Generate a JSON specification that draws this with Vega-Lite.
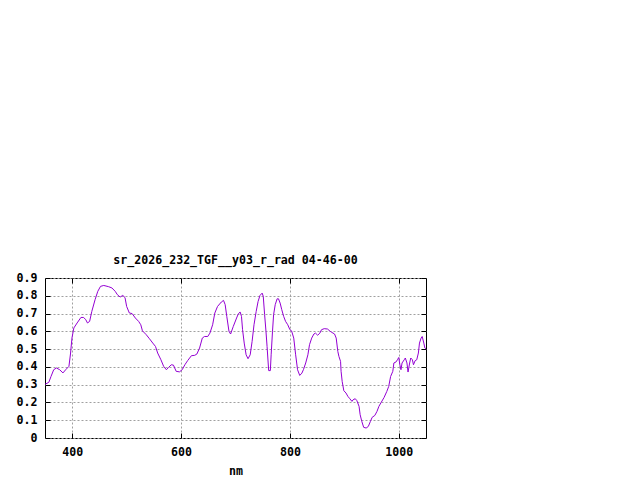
{
  "$schema": "https://vega.github.io/schema/vega-lite/v6.json",
  "width": 381,
  "height": 160,
  "autosize": {"type": "none"},
  "padding": {"left": 45, "top": 278, "right": 214, "bottom": 42},
  "background": "white",
  "title": {
    "text": "sr_2026_232_TGF__y03_r_rad 04-46-00",
    "font": "DejaVu Sans Mono",
    "fontSize": 11.6,
    "fontWeight": "bold",
    "color": "black",
    "offset": 5
  },
  "config": {
    "view": {"stroke": "black", "strokeWidth": 1},
    "axis": {
      "domain": false,
      "tickColor": "black",
      "tickSize": -5,
      "tickWidth": 1,
      "labelFont": "DejaVu Sans Mono",
      "labelFontSize": 11.6,
      "labelFontWeight": "bold",
      "labelColor": "black",
      "titleFont": "DejaVu Sans Mono",
      "titleFontSize": 11.6,
      "titleFontWeight": "bold",
      "titleColor": "black",
      "gridColor": "#a0a0a0",
      "gridDash": [2, 2],
      "gridWidth": 1,
      "gridOpacity": 1
    }
  },
  "data": {
    "values": [
      {"nm": 350, "rad": 0.302}, {"nm": 357, "rad": 0.313}, {"nm": 361, "rad": 0.346},
      {"nm": 366, "rad": 0.384}, {"nm": 371, "rad": 0.394}, {"nm": 377, "rad": 0.384},
      {"nm": 383, "rad": 0.366}, {"nm": 388, "rad": 0.384}, {"nm": 394, "rad": 0.403},
      {"nm": 397, "rad": 0.478}, {"nm": 399.5, "rad": 0.562}, {"nm": 403, "rad": 0.619},
      {"nm": 409, "rad": 0.647}, {"nm": 416, "rad": 0.678}, {"nm": 421, "rad": 0.678},
      {"nm": 425, "rad": 0.665}, {"nm": 428, "rad": 0.647}, {"nm": 432, "rad": 0.656},
      {"nm": 436, "rad": 0.712}, {"nm": 442, "rad": 0.778}, {"nm": 447, "rad": 0.825},
      {"nm": 452, "rad": 0.853}, {"nm": 458, "rad": 0.858}, {"nm": 467, "rad": 0.851},
      {"nm": 473, "rad": 0.844}, {"nm": 479, "rad": 0.825}, {"nm": 483, "rad": 0.806},
      {"nm": 488, "rad": 0.793}, {"nm": 493, "rad": 0.802}, {"nm": 497, "rad": 0.79},
      {"nm": 500, "rad": 0.74}, {"nm": 505, "rad": 0.703}, {"nm": 510, "rad": 0.7},
      {"nm": 516, "rad": 0.675}, {"nm": 522, "rad": 0.656}, {"nm": 526, "rad": 0.637},
      {"nm": 529, "rad": 0.603}, {"nm": 536, "rad": 0.581}, {"nm": 542, "rad": 0.558},
      {"nm": 548, "rad": 0.534}, {"nm": 553, "rad": 0.515}, {"nm": 557, "rad": 0.478},
      {"nm": 563, "rad": 0.44}, {"nm": 568, "rad": 0.403}, {"nm": 573, "rad": 0.384},
      {"nm": 577, "rad": 0.397}, {"nm": 582, "rad": 0.412}, {"nm": 586, "rad": 0.41},
      {"nm": 591, "rad": 0.375}, {"nm": 597, "rad": 0.372}, {"nm": 602, "rad": 0.384},
      {"nm": 607, "rad": 0.412}, {"nm": 612, "rad": 0.435}, {"nm": 619, "rad": 0.463},
      {"nm": 625, "rad": 0.465}, {"nm": 629, "rad": 0.472}, {"nm": 634, "rad": 0.506},
      {"nm": 639, "rad": 0.562}, {"nm": 643, "rad": 0.571}, {"nm": 649, "rad": 0.571},
      {"nm": 653, "rad": 0.59}, {"nm": 658, "rad": 0.637}, {"nm": 662, "rad": 0.703},
      {"nm": 667, "rad": 0.74}, {"nm": 674, "rad": 0.765}, {"nm": 678, "rad": 0.774},
      {"nm": 681, "rad": 0.75}, {"nm": 684, "rad": 0.684}, {"nm": 688, "rad": 0.6},
      {"nm": 691, "rad": 0.585}, {"nm": 696, "rad": 0.628}, {"nm": 702, "rad": 0.675},
      {"nm": 705, "rad": 0.697}, {"nm": 708.5, "rad": 0.709}, {"nm": 711, "rad": 0.684},
      {"nm": 713, "rad": 0.609}, {"nm": 716, "rad": 0.534}, {"nm": 719.5, "rad": 0.468},
      {"nm": 723, "rad": 0.446}, {"nm": 727, "rad": 0.468}, {"nm": 730.5, "rad": 0.543},
      {"nm": 734, "rad": 0.637}, {"nm": 738, "rad": 0.712}, {"nm": 741.5, "rad": 0.768},
      {"nm": 745, "rad": 0.802}, {"nm": 749, "rad": 0.815}, {"nm": 751, "rad": 0.797},
      {"nm": 753.5, "rad": 0.694}, {"nm": 756, "rad": 0.6}, {"nm": 758, "rad": 0.515},
      {"nm": 760, "rad": 0.422}, {"nm": 761, "rad": 0.379}, {"nm": 764, "rad": 0.379},
      {"nm": 765.5, "rad": 0.468}, {"nm": 768, "rad": 0.6}, {"nm": 770, "rad": 0.694},
      {"nm": 773, "rad": 0.75}, {"nm": 776.5, "rad": 0.783}, {"nm": 779, "rad": 0.783},
      {"nm": 782, "rad": 0.759}, {"nm": 785, "rad": 0.722}, {"nm": 788.5, "rad": 0.684},
      {"nm": 792, "rad": 0.656}, {"nm": 796, "rad": 0.637}, {"nm": 800, "rad": 0.609},
      {"nm": 803, "rad": 0.603}, {"nm": 807, "rad": 0.562}, {"nm": 810.5, "rad": 0.468},
      {"nm": 814, "rad": 0.384}, {"nm": 818, "rad": 0.352}, {"nm": 822, "rad": 0.365},
      {"nm": 825, "rad": 0.386}, {"nm": 829, "rad": 0.422}, {"nm": 833, "rad": 0.468},
      {"nm": 836, "rad": 0.525}, {"nm": 840, "rad": 0.562}, {"nm": 844, "rad": 0.585},
      {"nm": 847, "rad": 0.59}, {"nm": 851, "rad": 0.578}, {"nm": 855, "rad": 0.59},
      {"nm": 858, "rad": 0.609}, {"nm": 863, "rad": 0.615}, {"nm": 869, "rad": 0.613},
      {"nm": 874, "rad": 0.6}, {"nm": 877, "rad": 0.594}, {"nm": 882, "rad": 0.585},
      {"nm": 885, "rad": 0.562}, {"nm": 888, "rad": 0.487}, {"nm": 890, "rad": 0.459},
      {"nm": 893, "rad": 0.431}, {"nm": 894, "rad": 0.375}, {"nm": 896, "rad": 0.318},
      {"nm": 899, "rad": 0.266}, {"nm": 903, "rad": 0.253}, {"nm": 906.5, "rad": 0.234},
      {"nm": 910, "rad": 0.221}, {"nm": 914, "rad": 0.206}, {"nm": 916, "rad": 0.215},
      {"nm": 920, "rad": 0.221}, {"nm": 923, "rad": 0.21}, {"nm": 927, "rad": 0.178},
      {"nm": 929, "rad": 0.131}, {"nm": 932, "rad": 0.094}, {"nm": 935.5, "rad": 0.06},
      {"nm": 940, "rad": 0.056}, {"nm": 944, "rad": 0.065}, {"nm": 948, "rad": 0.094},
      {"nm": 951, "rad": 0.116}, {"nm": 956, "rad": 0.127}, {"nm": 960, "rad": 0.15},
      {"nm": 963.5, "rad": 0.178}, {"nm": 968, "rad": 0.202}, {"nm": 973, "rad": 0.228},
      {"nm": 978, "rad": 0.262}, {"nm": 981.5, "rad": 0.29}, {"nm": 985, "rad": 0.346},
      {"nm": 989, "rad": 0.375}, {"nm": 991, "rad": 0.422}, {"nm": 995, "rad": 0.428},
      {"nm": 997.5, "rad": 0.44}, {"nm": 1000, "rad": 0.453}, {"nm": 1002, "rad": 0.412},
      {"nm": 1004, "rad": 0.384}, {"nm": 1006, "rad": 0.422}, {"nm": 1010, "rad": 0.44},
      {"nm": 1012, "rad": 0.45}, {"nm": 1015, "rad": 0.422}, {"nm": 1017, "rad": 0.371},
      {"nm": 1020, "rad": 0.422}, {"nm": 1022, "rad": 0.45}, {"nm": 1025, "rad": 0.44},
      {"nm": 1027, "rad": 0.412}, {"nm": 1030, "rad": 0.435}, {"nm": 1033, "rad": 0.44},
      {"nm": 1036, "rad": 0.478}, {"nm": 1038, "rad": 0.534}, {"nm": 1041, "rad": 0.562},
      {"nm": 1043, "rad": 0.571}, {"nm": 1046, "rad": 0.534}, {"nm": 1048, "rad": 0.506},
      {"nm": 1050, "rad": 0.5}
    ]
  },
  "layer": [
    {
      "mark": {"type": "line", "color": "#9400d3", "strokeWidth": 1, "clip": true},
      "encoding": {
        "x": {
          "field": "nm",
          "type": "quantitative",
          "scale": {"domain": [350, 1050], "nice": false, "zero": false},
          "axis": {
            "orient": "bottom",
            "values": [400, 600, 800, 1000],
            "format": "d",
            "grid": true,
            "labelPadding": 13,
            "title": "nm",
            "titlePadding": 8
          }
        },
        "y": {
          "field": "rad",
          "type": "quantitative",
          "scale": {"domain": [0, 0.9], "nice": false, "zero": false},
          "axis": {
            "orient": "left",
            "values": [0, 0.1, 0.2, 0.3, 0.4, 0.5, 0.6, 0.7, 0.8, 0.9],
            "format": ".1~f",
            "grid": true,
            "labelPadding": 13,
            "title": null
          }
        }
      }
    },
    {
      "mark": {"type": "line", "strokeOpacity": 0},
      "encoding": {
        "x": {
          "field": "nm",
          "type": "quantitative",
          "axis": {"orient": "top", "values": [400, 600, 800, 1000], "labels": false, "grid": false, "title": null}
        },
        "y": {
          "field": "rad",
          "type": "quantitative",
          "axis": {"orient": "right", "values": [0, 0.1, 0.2, 0.3, 0.4, 0.5, 0.6, 0.7, 0.8, 0.9], "labels": false, "grid": false, "title": null}
        }
      }
    }
  ],
  "resolve": {"axis": {"x": "independent", "y": "independent"}}
}
